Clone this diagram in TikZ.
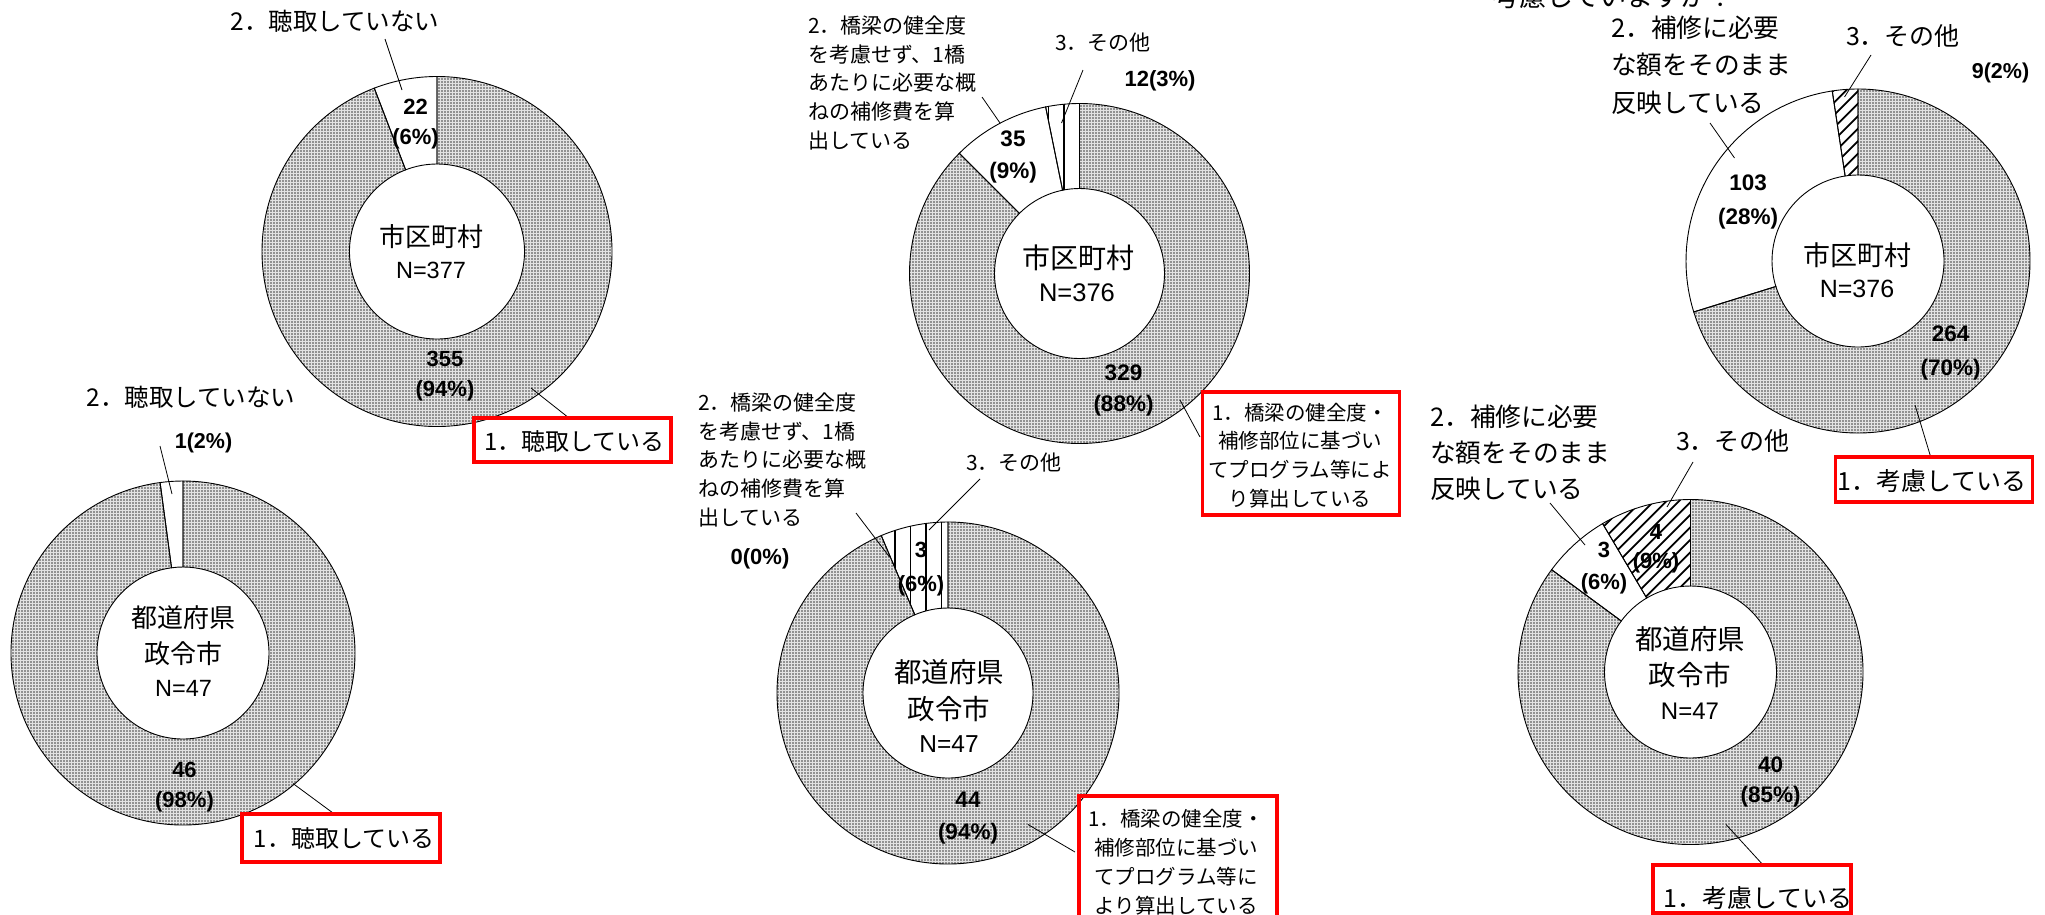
\documentclass[tikz,border=0pt]{standalone}
\usepackage{fontspec}
\setmainfont{Liberation Sans}
\newfontfamily\jp{Noto Sans CJK JP}
\usetikzlibrary{patterns.meta}
\tikzdeclarepattern{
  name=stipple,
  type=uncolored,
  bounding box={(0pt,0pt) and (3pt,3pt)},
  tile size={(3pt,3pt)},
  code={\pgfpathrectangle{\pgfpoint{0.6pt}{0.6pt}}{\pgfpoint{1.5pt}{1.5pt}}\pgfusepath{fill}}
}
\newcommand\fs[2]{\fontsize{#1}{#2}\selectfont}
\newcommand\sliceDraw[5]{\path[#5] (#1:#3) arc[start angle=#1,end angle=#2,radius=#3] -- (#2:#4) arc[start angle=#2,end angle=#1,radius=#4] -- cycle;}
\newcommand\sliceClip[4]{\clip (#1:#3) arc[start angle=#1,end angle=#2,radius=#3] -- (#2:#4) arc[start angle=#2,end angle=#1,radius=#4] -- cycle;}
\tikzset{
  dotfill/.style={fill=gray!22, postaction={pattern=stipple, pattern color=black!85}},
  whitefill/.style={fill=white},
  outline/.style={draw=black, line width=0.9pt},
  stripe/.style={draw=black, line width=1.5pt},
  hatch/.style={draw=black, line width=1.8pt},
  lbl/.style={inner sep=0pt, font=\jp},
  num/.style={inner sep=0pt, align=center},
  ctr/.style={inner sep=0pt, align=center},
  leader/.style={draw=black, line width=0.8pt},
  redbox/.style={draw=red, line width=3.5pt, inner sep=0pt, fill=none},
}
\begin{document}
\begin{tikzpicture}[x=1pt,y=-1pt]
\useasboundingbox (0,0) rectangle (2045,914);
\fill[white] (0,0) rectangle (2045,914);

% ---------------- Chart 1 : 市区町村 N=377 ----------------
\begin{scope}[shift={(437,251.5)}]
  \sliceDraw{-90}{248.99}{175}{87.5}{dotfill}
  \sliceDraw{248.99}{270}{175}{87.5}{whitefill}
  \sliceDraw{-90}{248.99}{175}{87.5}{outline}
  \sliceDraw{248.99}{270}{175}{87.5}{outline}
\end{scope}
\node[lbl, font=\jp\fs{24.5}{30}] (c1t2) at (335,21) {2．聴取していない};
\coordinate (c1p2a) at (385,39);
\coordinate (c1p2b) at (402,90);
\draw[leader] (c1p2a) -- (c1p2b);
\node[num, font=\bfseries\fs{22}{30}] (c1n2) at (415.5,124) {22\\(6\%)};
\node[ctr, font=\jp\fs{26}{30}] (c1ca) at (431,237) {市区町村};
\node[ctr, font=\fs{23.5}{28}] (c1cb) at (431,270.5) {N=377};
\node[num, font=\bfseries\fs{22}{30}] (c1n1) at (445,376) {355\\(94\%)};
\coordinate (c1p1a) at (531,388);
\coordinate (c1p1b) at (569,418);
\draw[leader] (c1p1a) -- (c1p1b);
\node[redbox, minimum width=197pt, minimum height=44pt] (c1box) at (572.5,440) {};
\node[lbl, font=\jp\fs{24}{28}] (c1t1) at (574.5,441) {1．聴取している};

% ---------------- Chart 2 : 都道府県 政令市 N=47 ----------------
\begin{scope}[shift={(183,653)}]
  \sliceDraw{-90}{262.34}{172}{86}{dotfill}
  \sliceDraw{262.34}{270}{172}{86}{whitefill}
  \sliceDraw{-90}{262.34}{172}{86}{outline}
  \sliceDraw{262.34}{270}{172}{86}{outline}
\end{scope}
\node[lbl, font=\jp\fs{24.5}{30}] (c2t2) at (191,397) {2．聴取していない};
\node[num, font=\bfseries\fs{21.5}{30}] (c2n2) at (203.5,443) {1(2\%)};
\coordinate (c2p2a) at (160,446);
\coordinate (c2p2b) at (172,494);
\draw[leader] (c2p2a) -- (c2p2b);
\node[ctr, font=\jp\fs{26}{30}] (c2ca) at (183,618) {都道府県};
\node[ctr, font=\jp\fs{26}{30}] (c2cb) at (183,653.5) {政令市};
\node[ctr, font=\fs{23.5}{28}] (c2cc) at (183.5,688) {N=47};
\node[num, font=\bfseries\fs{22}{30}] (c2n1) at (184.5,787) {46\\(98\%)};
\coordinate (c2p1a) at (293,783.5);
\coordinate (c2p1b) at (333,813);
\draw[leader] (c2p1a) -- (c2p1b);
\node[redbox, minimum width=198pt, minimum height=48pt] (c2box) at (341,838) {};
\node[lbl, font=\jp\fs{24}{28}] (c2t1) at (344,838.5) {1．聴取している};

% ---------------- Chart 3 : 市区町村 N=376 ----------------
\begin{scope}[shift={(1079.5,273.5)}]
  \sliceDraw{-90}{225}{170}{85}{dotfill}
  \sliceDraw{225}{258.51}{170}{85}{whitefill}
  \sliceDraw{258.51}{270}{170}{85}{whitefill}
  \begin{scope}
    \sliceClip{258.51}{270}{170}{85}
    \foreach \u in {0,-15.5,-31} \draw[stripe] (\u,-180) -- (\u,0);
  \end{scope}
  \sliceDraw{-90}{225}{170}{85}{outline}
  \sliceDraw{225}{258.51}{170}{85}{outline}
  \sliceDraw{258.51}{270}{170}{85}{outline}
\end{scope}
\node[lbl, anchor=north west, align=left, font=\jp\fs{21}{28.8}] (c3t2) at (808,15.5) {2．橋梁の健全度\\を考慮せず、1橋\\あたりに必要な概\\ねの補修費を算\\出している};
\coordinate (c3p2a) at (982,97);
\coordinate (c3p2b) at (1000,123);
\draw[leader] (c3p2a) -- (c3p2b);
\node[lbl, font=\jp\fs{21}{26}] (c3t3) at (1103,43) {3．その他};
\coordinate (c3p3a) at (1083,70);
\coordinate (c3p3b) at (1061.5,123);
\draw[leader] (c3p3a) -- (c3p3b);
\node[num, font=\bfseries\fs{22}{30}] (c3n3) at (1160,81) {12(3\%)};
\node[num, font=\bfseries\fs{22.5}{32}] (c3n2) at (1013,157) {35\\(9\%)};
\node[ctr, font=\jp\fs{28}{32}] (c3ca) at (1078,257.5) {市区町村};
\node[ctr, font=\fs{25.5}{30}] (c3cb) at (1077,293) {N=376};
\node[num, font=\bfseries\fs{22.5}{31}] (c3n1) at (1123.5,390) {329\\(88\%)};
\coordinate (c3p1a) at (1180,400);
\coordinate (c3p1b) at (1200,437);
\draw[leader] (c3p1a) -- (c3p1b);
\node[redbox, minimum width=197pt, minimum height=123pt] (c3box) at (1300.75,453.5) {};
\node[lbl, align=center, font=\jp\fs{20.5}{28.7}] (c3t1) at (1300,455.5) {1．橋梁の健全度・\\補修部位に基づい\\てプログラム等によ\\り算出している};

% ---------------- Chart 4 : 都道府県 政令市 N=47 ----------------
\begin{scope}[shift={(948,693)}]
  \sliceDraw{-90}{247.02}{171}{85}{dotfill}
  \sliceDraw{247.02}{270}{171}{85}{whitefill}
  \begin{scope}
    \sliceClip{247.02}{270}{171}{85}
    \foreach \u in {-6.3,-21.8,-37.3,-52.8,-68.3} \draw[stripe] (\u,-180) -- (\u,0);
  \end{scope}
  \sliceDraw{-90}{247.02}{171}{85}{outline}
  \sliceDraw{247.02}{270}{171}{85}{outline}
\end{scope}
\node[lbl, anchor=north west, align=left, font=\jp\fs{21}{28.8}] (c4t2) at (698,392.5) {2．橋梁の健全度\\を考慮せず、1橋\\あたりに必要な概\\ねの補修費を算\\出している};
\coordinate (c4p2a) at (856,513);
\coordinate (c4p2b) at (889.5,557);
\draw[leader] (c4p2a) -- (c4p2b);
\node[lbl, font=\jp\fs{21}{26}] (c4t3) at (1014,463) {3．その他};
\coordinate (c4p3a) at (980,479);
\coordinate (c4p3b) at (929,530);
\draw[leader] (c4p3a) -- (c4p3b);
\node[num, font=\bfseries\fs{22}{30}] (c4n2) at (760,558.5) {0(0\%)};
\node[num, font=\bfseries\fs{22}{34}] (c4n3) at (921,569) {3\\(6\%)};
\node[ctr, font=\jp\fs{27.5}{32}] (c4ca) at (949,672) {都道府県};
\node[ctr, font=\jp\fs{27.5}{32}] (c4cb) at (949,709) {政令市};
\node[ctr, font=\fs{24.5}{30}] (c4cc) at (949,744.5) {N=47};
\node[num, font=\bfseries\fs{22.5}{31.5}] (c4n1) at (968,818) {44\\(94\%)};
\coordinate (c4p1a) at (1028,824.5);
\coordinate (c4p1b) at (1075,852);
\draw[leader] (c4p1a) -- (c4p1b);
\node[redbox, minimum width=198pt, minimum height=123pt] (c4box) at (1178,857.5) {};
\node[lbl, align=center, font=\jp\fs{20.5}{28.9}] (c4t1) at (1176,862) {1．橋梁の健全度・\\補修部位に基づい\\てプログラム等に\\より算出している};

% ---------------- Chart 5 : 市区町村 N=376 ----------------
\node[lbl, anchor=base west, font=\jp\fs{27}{30}] (c5q) at (1492,6) {考慮していますか？};
\begin{scope}[shift={(1858,261)}]
  \sliceDraw{-90}{162.77}{172}{86}{dotfill}
  \sliceDraw{162.77}{261.38}{172}{86}{whitefill}
  \sliceDraw{261.38}{270}{172}{86}{whitefill}
  \begin{scope}
    \sliceClip{261.38}{270}{172}{86}
    \foreach \k in {0,...,30} \draw[hatch] ({-320+12.5*\k-250},250) -- ({-320+12.5*\k+250},-250);
  \end{scope}
  \sliceDraw{-90}{162.77}{172}{86}{outline}
  \sliceDraw{162.77}{261.38}{172}{86}{outline}
  \sliceDraw{261.38}{270}{172}{86}{outline}
\end{scope}
\node[lbl, anchor=north west, align=left, font=\jp\fs{25.7}{37.5}] (c5t2) at (1611,15.5) {2．補修に必要\\な額をそのまま\\反映している};
\coordinate (c5p2a) at (1710,123);
\coordinate (c5p2b) at (1734.5,158);
\draw[leader] (c5p2a) -- (c5p2b);
\node[lbl, font=\jp\fs{25}{30}] (c5t3) at (1903,36) {3．その他};
\coordinate (c5p3a) at (1871,55);
\coordinate (c5p3b) at (1844.5,97);
\draw[leader] (c5p3a) -- (c5p3b);
\node[num, font=\bfseries\fs{21.5}{30}] (c5n3) at (2000.5,72.5) {9(2\%)};
\node[num, font=\bfseries\fs{22.5}{33.5}] (c5n2) at (1748,202) {103\\(28\%)};
\node[ctr, font=\jp\fs{27}{32}] (c5ca) at (1857,255) {市区町村};
\node[ctr, font=\fs{25}{30}] (c5cb) at (1857,289) {N=376};
\node[num, font=\bfseries\fs{22.5}{33.5}] (c5n1) at (1950.5,353) {264\\(70\%)};
\coordinate (c5p1a) at (1915,405);
\coordinate (c5p1b) at (1931,458);
\draw[leader] (c5p1a) -- (c5p1b);
\node[redbox, minimum width=197pt, minimum height=45pt] (c5box) at (1933.75,479.5) {};
\node[lbl, font=\jp\fs{25}{30}] (c5t1) at (1932,481) {1．考慮している};

% ---------------- Chart 6 : 都道府県 政令市 N=47 ----------------
\begin{scope}[shift={(1690.5,672)}]
  \sliceDraw{-90}{216.38}{172.5}{86}{dotfill}
  \sliceDraw{216.38}{239.36}{172.5}{86}{whitefill}
  \sliceDraw{239.36}{270}{172.5}{86}{whitefill}
  \begin{scope}
    \sliceClip{239.36}{270}{172.5}{86}
    \foreach \k in {0,...,30} \draw[hatch] ({-320+12.5*\k-250},250) -- ({-320+12.5*\k+250},-250);
  \end{scope}
  \sliceDraw{-90}{216.38}{172.5}{86}{outline}
  \sliceDraw{216.38}{239.36}{172.5}{86}{outline}
  \sliceDraw{239.36}{270}{172.5}{86}{outline}
\end{scope}
\node[lbl, anchor=north west, align=left, font=\jp\fs{25.7}{36}] (c6t2) at (1430,404.4) {2．補修に必要\\な額をそのまま\\反映している};
\coordinate (c6p2a) at (1550,503);
\coordinate (c6p2b) at (1585,545);
\draw[leader] (c6p2a) -- (c6p2b);
\node[lbl, font=\jp\fs{25}{30}] (c6t3) at (1733,441) {3．その他};
\coordinate (c6p3a) at (1693,462);
\coordinate (c6p3b) at (1667,507);
\draw[leader] (c6p3a) -- (c6p3b);
\node[num, font=\bfseries\fs{22}{32.5}] (c6n2) at (1604,568) {3\\(6\%)};
\node[num, font=\bfseries\fs{22}{29}] (c6n3) at (1656,548.5) {4\\(9\%)};
\node[ctr, font=\jp\fs{27.5}{32}] (c6ca) at (1690,639) {都道府県};
\node[ctr, font=\jp\fs{27.5}{32}] (c6cb) at (1690,675) {政令市};
\node[ctr, font=\fs{24}{30}] (c6cc) at (1690,711) {N=47};
\node[num, font=\bfseries\fs{22.5}{30}] (c6n1) at (1770.5,781.5) {40\\(85\%)};
\coordinate (c6p1a) at (1726,824.5);
\coordinate (c6p1b) at (1764,866);
\draw[leader] (c6p1a) -- (c6p1b);
\node[redbox, minimum width=198pt, minimum height=48pt] (c6box) at (1752,889) {};
\node[lbl, font=\jp\fs{25}{30}] (c6t1) at (1758,898) {1．考慮している};
\end{tikzpicture}
\end{document}
